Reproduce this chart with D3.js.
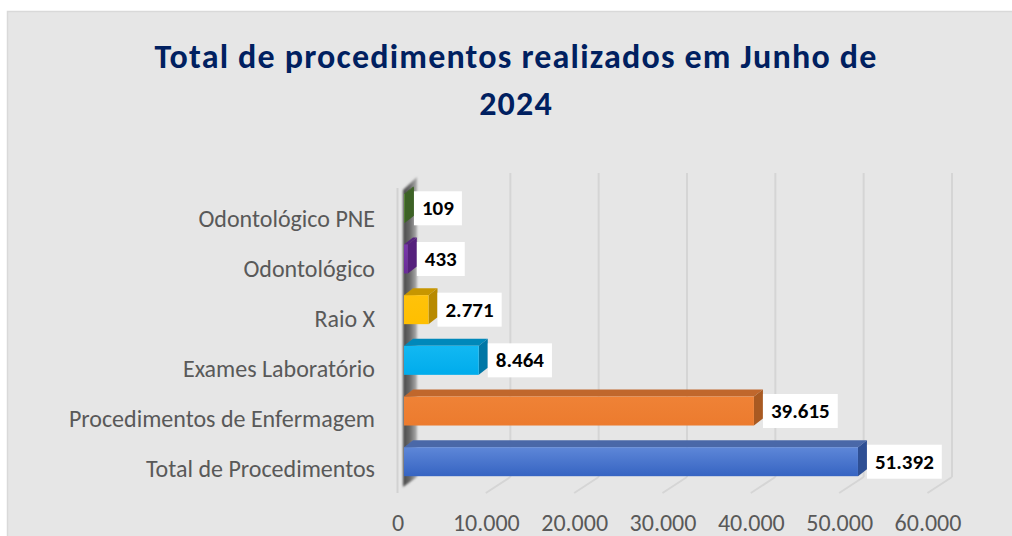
<!DOCTYPE html>
<html>
<head>
<meta charset="utf-8">
<script src="https://cdn.jsdelivr.net/npm/d3@7"></script>
<style>
  html, body { margin: 0; padding: 0; background: #ffffff; }
  svg { display: block; }
  text { font-family: Carlito, Calibri, Lato, "Open Sans", sans-serif; }
</style>
</head>
<body>
<svg id="chart" width="1012" height="536"></svg>
<script>
// Procedures performed in June 2024, one bar per category (top to bottom)
const categories = [
  "Odontológico PNE",
  "Odontológico",
  "Raio X",
  "Exames Laboratório",
  "Procedimentos de Enfermagem",
  "Total de Procedimentos"
];
const values = [109, 433, 2771, 8464, 39615, 51392];
const tickValues = [0, 10000, 20000, 30000, 40000, 50000, 60000];
const titleLines = ["Total de procedimentos realizados em Junho de", "2024"];

// face colours per bar: front (top/bottom of gradient), top face, side face
const palette = [
  { front: ["#5b8a3a", "#4e7a30"], top: "#3f6526", side: "#3d6226" },
  { front: ["#7a38ac", "#6a2c98"], top: "#57237f", side: "#55207c" },
  { front: ["#ffc20a", "#ffbf00"], top: "#c79600", side: "#b88a00" },
  { front: ["#12b8f2", "#00acec"], top: "#0088ba", side: "#0077a6" },
  { front: ["#ef8236", "#ec7b2e"], top: "#c0672c", side: "#a95a22" },
  { front: ["#5e87d8", "#3664c2"], top: "#4a68a8", side: "#2e4f94" }
];

const fmt = d3.formatLocale({ decimal: ",", thousands: ".", grouping: [3], currency: ["R$", ""] }).format(",d");

const svg = d3.select("#chart");
const defs = svg.append("defs");

// chart panel
svg.append("rect")
  .attr("x", 7.5).attr("y", 11.5)
  .attr("width", 1020).attr("height", 540)
  .attr("fill", "#e6e6e6").attr("stroke", "#d9d9d9").attr("stroke-width", 1.5);

// title
svg.append("text")
  .attr("x", 516).attr("y", 68)
  .attr("text-anchor", "middle")
  .attr("font-size", 34).attr("font-weight", 700).attr("fill", "#002060")
  .attr("letter-spacing", 1.2)
  .selectAll("tspan").data(titleLines).join("tspan")
  .attr("x", 516).attr("dy", (d, i) => i === 0 ? 0 : 47)
  .text(d => d);

// scales: front plane of bars, back wall, floor edge
const xFront = d3.scaleLinear().domain([0, 60000]).range([404, 934]);
const depthX = 18, wallTop = 173, wallBottom = 477, floorY = 493;
const xFloor = d3.scaleLinear().domain([0, 60000]).range([xFront(0) - 6.5, xFront(60000) - 6.5]);
const yBar = d3.scalePoint().domain(categories).range([208.3, 461.7]);
const yLabel = d3.scalePoint().domain(categories).range([219, 469]);
const barH = 29, dx = 9, dy = 7;

// back wall gridlines and their floor diagonals
const grid = svg.append("g").attr("stroke", "#d5d5d5").attr("stroke-width", 2).attr("fill", "none");
grid.selectAll("line.v").data(tickValues.slice(1)).join("line")
  .attr("class", "v")
  .attr("x1", d => xFront(d) + depthX).attr("x2", d => xFront(d) + depthX)
  .attr("y1", wallTop).attr("y2", wallBottom);
grid.selectAll("line.d").data(tickValues.slice(1)).join("line")
  .attr("class", "d")
  .attr("x1", d => xFront(d) + depthX).attr("y1", wallBottom)
  .attr("x2", d => xFloor(d)).attr("y2", floorY);

// front edge of the floor at zero
svg.append("line")
  .attr("x1", xFloor(0)).attr("x2", xFloor(0))
  .attr("y1", 188).attr("y2", floorY)
  .attr("stroke", "#d2d2d2").attr("stroke-width", 2);

// shaded side wall at zero
const wallGrad = defs.append("linearGradient").attr("id", "wallGrad")
  .attr("x1", "0%").attr("x2", "100%").attr("y1", "0%").attr("y2", "0%");
wallGrad.append("stop").attr("offset", "0%").attr("stop-color", "#4a4a4a");
wallGrad.append("stop").attr("offset", "50%").attr("stop-color", "#6a6a6a");
wallGrad.append("stop").attr("offset", "100%").attr("stop-color", "#b0b0b0");
defs.append("filter").attr("id", "soft").append("feGaussianBlur").attr("stdDeviation", 0.8);
const w0 = xFront(0) - 1;
svg.append("path")
  .attr("d", `M${w0},190 L${w0 + 14},177 L${w0 + 14},477 L${w0},487 Z`)
  .attr("fill", "url(#wallGrad)")
  .attr("filter", "url(#soft)");

// 3D bars
palette.forEach((p, i) => {
  const g = defs.append("linearGradient").attr("id", "front" + i)
    .attr("x1", "0%").attr("x2", "0%").attr("y1", "0%").attr("y2", "100%");
  g.append("stop").attr("offset", "0%").attr("stop-color", p.front[0]);
  g.append("stop").attr("offset", "100%").attr("stop-color", p.front[1]);
});

const data = categories.map((c, i) => ({ cat: c, value: values[i], i }));
const bars = svg.append("g").selectAll("g").data(data).join("g");

bars.append("path") // top face
  .attr("fill", d => palette[d.i].top)
  .attr("d", d => {
    const x0 = xFront(0), x1 = xFront(d.value), t = yBar(d.cat) - barH / 2;
    return `M${x0},${t} L${x0 + dx},${t - dy} L${x1 + dx},${t - dy} L${x1},${t} Z`;
  });
bars.append("path") // side face
  .attr("fill", d => palette[d.i].side)
  .attr("d", d => {
    const x1 = xFront(d.value), t = yBar(d.cat) - barH / 2, b = t + barH;
    return `M${x1},${t} L${x1 + dx},${t - dy} L${x1 + dx},${b - dy} L${x1},${b} Z`;
  });
bars.append("rect") // front face
  .attr("x", xFront(0))
  .attr("y", d => yBar(d.cat) - barH / 2)
  .attr("width", d => Math.max(0.5, xFront(d.value) - xFront(0)))
  .attr("height", barH)
  .attr("fill", d => `url(#front${d.i})`);

// value labels in white boxes
const labels = svg.append("g").selectAll("g").data(data).join("g")
  .attr("transform", d => `translate(${xFront(d.value) + dx},${yBar(d.cat)})`);
labels.append("rect").attr("fill", "#ffffff");
const labelTexts = labels.append("text")
  .attr("font-size", 21).attr("font-weight", 700).attr("fill", "#000000")
  .attr("dominant-baseline", "central")
  .text(d => fmt(d.value));
labelTexts.each(function () {
  const w = this.getComputedTextLength();
  const pad = 8;
  d3.select(this).attr("x", pad);
  d3.select(this.parentNode).select("rect")
    .attr("x", 0).attr("y", -17).attr("width", w + pad * 2).attr("height", 34);
});

// category axis
const yAxis = svg.append("g")
  .attr("transform", "translate(375,0)")
  .call(d3.axisLeft(yLabel).tickSize(0).tickPadding(0));
yAxis.select(".domain").remove();
yAxis.selectAll("text")
  .attr("font-size", 24).attr("fill", "#595959")
  .attr("font-family", null);

// value axis along the floor edge
const xAxis = svg.append("g")
  .attr("transform", `translate(0,${floorY + 30})`)
  .call(d3.axisBottom(xFloor).tickValues(tickValues).tickFormat(fmt).tickSize(0).tickPadding(0));
xAxis.select(".domain").remove();
xAxis.selectAll("text")
  .attr("font-size", 24).attr("fill", "#595959")
  .attr("font-family", null)
  .attr("dy", "0.32em");
</script>
</body>
</html>
